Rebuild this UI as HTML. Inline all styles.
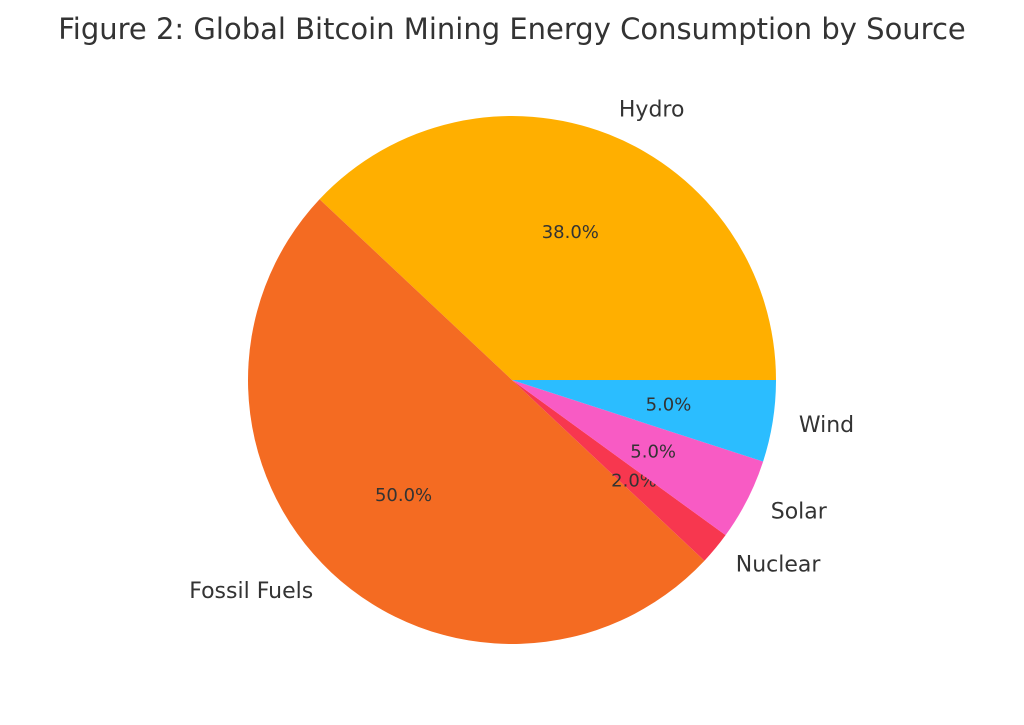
<!DOCTYPE html>
<html><head><meta charset="utf-8"><style>
body{margin:0;background:#fff;}
svg{display:block;font-family:"DejaVu Sans","Liberation Sans",sans-serif;}
</style></head><body>
<svg id="chart" width="1024" height="725" viewBox="0 0 1024 725">
<text x="512" y="39" text-anchor="middle" font-size="29" fill="#333">Figure 2: Global Bitcoin Mining Energy Consumption by Source</text>
</svg>
<script>
const categories = ["Hydro", "Fossil Fuels", "Nuclear", "Solar", "Wind"];
const values = [38, 50, 2, 5, 5];
const colors = ["#FFAF00", "#F46B22", "#F7374F", "#F85BC4", "#2BBDFF"];
const svg = document.getElementById('chart');
const NS = 'http://www.w3.org/2000/svg';
const cx = 512, cy = 380, r = 264;
const total = values.reduce((a,b)=>a+b,0);
function pt(angDeg, rad){const a=angDeg*Math.PI/180;return [cx+rad*Math.cos(a), cy-rad*Math.sin(a)];}
let start = 0;
values.forEach((v,i)=>{
  const sweep = v/total*360;
  const end = start+sweep;
  const [x1,y1]=pt(start,r),[x2,y2]=pt(end,r);
  const p=document.createElementNS(NS,'path');
  p.setAttribute('d',`M${cx},${cy} L${x1},${y1} A${r},${r} 0 ${sweep>180?1:0} 0 ${x2},${y2} Z`);
  p.setAttribute('fill',colors[i]);
  
  
  svg.appendChild(p);
  const mid=(start+end)/2;
  const [lx,ly]=pt(mid,r*1.1);
  const t=document.createElementNS(NS,'text');
  t.setAttribute('x',lx);t.setAttribute('y',ly);
  t.setAttribute('text-anchor',Math.cos(mid*Math.PI/180)>=0?'start':'end');
  t.setAttribute('dominant-baseline','central');
  t.setAttribute('font-size','22');t.setAttribute('fill','#333');
  t.textContent=categories[i];
  
  
  svg.appendChild(t);
  const [px,py]=pt(mid,r*0.6);
  const q=document.createElementNS(NS,'text');
  q.setAttribute('x',px);q.setAttribute('y',py);
  q.setAttribute('text-anchor','middle');q.setAttribute('dominant-baseline','central');
  q.setAttribute('font-size','18');q.setAttribute('fill','#333');
  q.textContent=(v/total*100).toFixed(1)+'%';
  
  
  svg.appendChild(q);
  start=end;
});
</script>
</body></html>
